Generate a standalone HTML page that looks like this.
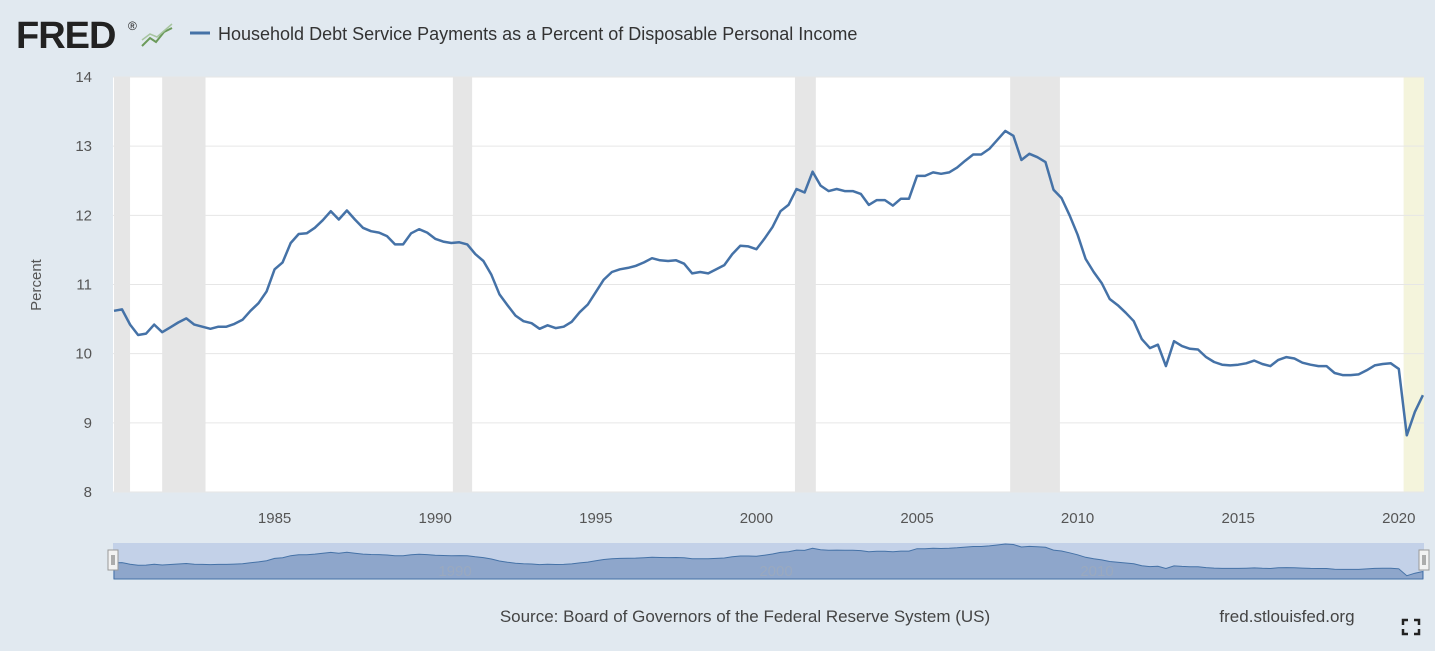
<!DOCTYPE html>
<html><head><meta charset="utf-8"><style>
body{margin:0;width:1435px;height:651px;background:#e1e9f0;font-family:"Liberation Sans",sans-serif;overflow:hidden}
</style></head><body>
<svg id="s" width="1435" height="651" xmlns="http://www.w3.org/2000/svg" style="position:absolute;left:0;top:0">
<text x="16" y="48" font-family="Liberation Sans" font-weight="bold" font-size="38" fill="#222" letter-spacing="-1">FRED</text>
<text x="128" y="30" font-size="12" fill="#222">®</text>
<polyline points="142,46 150,38 156,42 164,32 172,28" fill="none" stroke="#6b9a5a" stroke-width="2"/>
<polyline points="142,40 150,34 157,37 172,24" fill="none" stroke="#a7c5a0" stroke-width="1.5"/>
<line x1="190" y1="33" x2="210" y2="33" stroke="#4572a7" stroke-width="3"/>
<text x="218" y="40" font-size="18" fill="#333">Household Debt Service Payments as a Percent of Disposable Personal Income</text>
<rect x="113" y="77" width="1311" height="415" fill="#fff"/>
<g id="rec"></g>
<g id="grid" stroke="#e6e6e6" stroke-width="1"></g>
<g id="yl" font-size="15" fill="#555" text-anchor="end"></g>
<text transform="translate(41,285) rotate(-90)" font-size="15" fill="#555" text-anchor="middle">Percent</text>
<g id="xl" font-size="15" fill="#555" text-anchor="middle"></g>
<path id="line" fill="none" stroke="#4572a7" stroke-width="2.5" stroke-linejoin="round"/>
<rect x="113" y="543" width="1311" height="36" fill="#c3d1e8"/>
<path id="nav" fill="#8ea6cb" stroke="#4572a7" stroke-width="1"/>
<g font-size="15" fill="#9aa9bf" text-anchor="middle"><text x="455" y="576">1990</text><text x="776" y="576">2000</text><text x="1097" y="576">2010</text></g>
<rect x="108" y="550" width="10" height="20" fill="#f2f2f2" stroke="#999"/>
<rect x="1419" y="550" width="10" height="20" fill="#f2f2f2" stroke="#999"/>
<line x1="112" y1="555" x2="112" y2="565" stroke="#666"/><line x1="114" y1="555" x2="114" y2="565" stroke="#666"/>
<line x1="1423" y1="555" x2="1423" y2="565" stroke="#666"/><line x1="1425" y1="555" x2="1425" y2="565" stroke="#666"/>
<text x="745" y="622" font-size="17" fill="#444" text-anchor="middle">Source: Board of Governors of the Federal Reserve System (US)</text>
<text x="1287" y="622" font-size="17" fill="#444" text-anchor="middle">fred.stlouisfed.org</text>
<g stroke="#222" stroke-width="2.5" fill="none"><polyline points="1403,625 1403,620 1408,620"/><polyline points="1414,620 1419,620 1419,625"/><polyline points="1403,629 1403,634 1408,634"/><polyline points="1414,634 1419,634 1419,629"/></g>
</svg>
<script>
var d=[10.62,10.64,10.42,10.27,10.29,10.42,10.31,10.38,10.45,10.51,10.42,10.39,10.36,10.39,10.39,10.43,10.49,10.62,10.73,10.90,11.22,11.32,11.60,11.73,11.74,11.82,11.93,12.06,11.94,12.07,11.94,11.82,11.77,11.75,11.70,11.58,11.58,11.74,11.80,11.75,11.66,11.62,11.60,11.61,11.58,11.44,11.34,11.14,10.86,10.70,10.55,10.47,10.44,10.36,10.41,10.37,10.39,10.46,10.60,10.71,10.89,11.07,11.18,11.22,11.24,11.27,11.32,11.38,11.35,11.34,11.35,11.30,11.16,11.18,11.16,11.22,11.28,11.44,11.56,11.55,11.51,11.66,11.83,12.06,12.15,12.38,12.33,12.63,12.43,12.35,12.38,12.35,12.35,12.31,12.15,12.22,12.22,12.14,12.24,12.24,12.57,12.57,12.62,12.60,12.62,12.69,12.79,12.88,12.88,12.96,13.09,13.22,13.15,12.80,12.89,12.84,12.77,12.37,12.25,12.00,11.72,11.37,11.18,11.02,10.79,10.70,10.59,10.47,10.21,10.08,10.13,9.82,10.18,10.11,10.07,10.06,9.95,9.88,9.84,9.83,9.84,9.86,9.90,9.85,9.82,9.91,9.95,9.93,9.87,9.84,9.82,9.82,9.72,9.69,9.69,9.70,9.76,9.83,9.85,9.86,9.78,8.82,9.16,9.40];
var NS="http://www.w3.org/2000/svg";
function X(t){return 114+(t-1980)*32.12}
function el(p,tag,a,txt){var e=document.createElementNS(NS,tag);for(var k in a)e.setAttribute(k,a[k]);if(txt)e.textContent=txt;document.getElementById(p).appendChild(e);}
[[1980,1980.5,'#e6e6e6'],[1981.5,1982.85,'#e6e6e6'],[1990.55,1991.15,'#e6e6e6'],[2001.2,2001.85,'#e6e6e6'],[2007.9,2009.45,'#e6e6e6'],[2020.15,2020.8,'#f4f4dc']].forEach(function(r){var a=Math.max(113,X(r[0])),b=Math.min(1424,X(r[1]));el('rec','rect',{x:a,y:77,width:b-a,height:415,fill:r[2]});});
for(var v=8;v<=14;v++){var y=492-(v-8)*69.17;el('grid','line',{x1:113,x2:1424,y1:y,y2:y});el('yl','text',{x:92,y:y+5},String(v));}
for(var yr=1985;yr<=2020;yr+=5)el('xl','text',{x:X(yr),y:523},String(yr));
var p='',n='';
d.forEach(function(v,i){var x=X(1980+i/4);p+=(i?'L':'M')+x.toFixed(1)+','+(492-(v-8)*69.17).toFixed(1);n+='L'+x.toFixed(1)+','+(578-(v-8.5)*7.2).toFixed(1);});
document.getElementById('line').setAttribute('d',p);
document.getElementById('nav').setAttribute('d','M114,579'+n+'L'+X(1980+(d.length-1)/4).toFixed(1)+',579Z');
</script>
</body></html>
